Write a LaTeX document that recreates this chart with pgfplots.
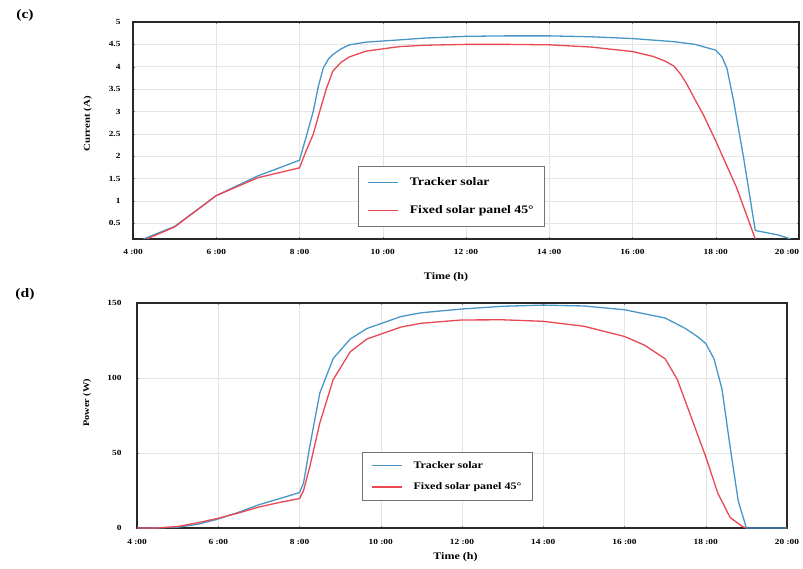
\documentclass[border=0pt]{standalone}
\usepackage{pgfplots}
\pgfplotsset{compat=1.18}
\usepackage{fontspec}
\setmainfont{Liberation Serif}[FakeStretch=1.2]
\definecolor{trk}{RGB}{72,150,200}
\definecolor{fix}{RGB}{232,72,82}
\definecolor{frame}{RGB}{40,40,40}

\pgfplotstableread{
h v
4.25 0.15
5 0.43
6 1.12
7 1.56
8 1.91
8.15 2.4
8.33 3.0
8.45 3.55
8.57 3.97
8.7 4.18
8.8 4.27
9.0 4.40
9.2 4.49
9.6 4.55
10.4 4.60
11 4.64
12 4.68
13 4.69
14 4.69
15 4.67
16 4.63
17 4.56
17.5 4.50
18 4.37
18.15 4.22
18.27 3.96
18.43 3.23
18.67 1.96
18.95 0.34
19.5 0.24
19.8 0.15
}\curtrk

\pgfplotstableread{
h v
4.33 0.15
5 0.42
6 1.12
7 1.52
8 1.74
8.15 2.10
8.33 2.49
8.5 3.05
8.65 3.52
8.8 3.90
9.0 4.10
9.2 4.22
9.6 4.35
10 4.40
10.4 4.45
11 4.48
12 4.50
13 4.50
14 4.49
15 4.44
16 4.34
16.5 4.23
16.8 4.12
17.0 4.01
17.15 3.84
17.3 3.62
17.5 3.27
17.7 2.93
18.0 2.34
18.5 1.30
18.95 0.15
}\curfix

\pgfplotstableread{
h v
4.0 0
4.5 0.1
5 0.5
5.5 2.5
6 6
6.5 10.5
7 15.5
7.5 19.5
8 23.6
8.1 30
8.25 54
8.5 90
8.83 113
9.25 126
9.66 133
10.5 141
11 143.5
12 146
13 147.8
14 148.6
15 148
16 145.5
17 140
17.5 133
17.8 127.5
18 123
18.2 113
18.4 92.6
18.6 54
18.8 18
19.0 0
20.0 0
}\powtrk

\pgfplotstableread{
h v
4.0 0
4.5 0
5 1
5.5 3.5
6 6.5
6.5 10
7 14
7.5 17
8 19.6
8.1 25
8.25 40.5
8.5 70
8.83 99
9.25 117.5
9.66 126
10.5 134
11 136.5
12 138.7
13 138.8
14 137.8
15 134.5
16 127.7
16.5 121.8
17 112.8
17.3 99
17.6 77
18 47.5
18.3 23
18.6 7
18.9 1
19.0 0
}\powfix

\pgfplotsset{
  common/.style={
    scale only axis, anchor=south west,
    axis line style={line width=1.6pt, frame},
    grid=major, grid style={black!10, line width=0.5pt},
    xmin=4, xmax=20,
    xtick={4,6,...,20},
    major tick length=2pt,
    tick style={black!50, line width=0.4pt},
    /pgf/number format/assume math mode=true,
    ticklabel style={font=\fontsize{7.8}{9}\selectfont\bfseries},
    label style={font=\fontsize{10}{12}\selectfont\bfseries},
    legend cell align=left,
    legend image code/.code={\draw[#1] (0pt,0pt) -- (30pt,0pt); \path (39pt,0pt);},
    legend style={draw=black!55, line width=0.7pt, anchor=north west,
      inner xsep=9pt, nodes={inner sep=2pt}},
  },
}

\begin{document}
\begin{tikzpicture}[x=1pt,y=1pt]
\useasboundingbox (0,0) rectangle (803,568);
\node[font=\fontsize{13}{15}\selectfont\bfseries] at (25,553) {(c)};
\node[font=\fontsize{13}{15}\selectfont\bfseries] at (25,274) {(d)};

\begin{axis}[common,
  at={(133pt,329pt)}, width=666pt, height=217pt,
  ymin=0.15, ymax=5,
  ytick={0.5,1,...,5},
  xticklabels={4 :00,6 :00,8 :00,10 :00,12 :00,14 :00,16 :00,18 :00,\makebox[0pt][r]{20 :00}},
  yticklabel style={/pgf/number format/fixed},
  xticklabel style={yshift=-7pt},
  yticklabel style={xshift=-9pt},
  xlabel={Time (h)}, ylabel={Current (A)},
  xlabel style={at={(axis description cs:0.47,-0.175)}, anchor=center},
  ylabel style={at={(axis description cs:-0.068,0.53)}, anchor=center, font=\fontsize{9}{11}\selectfont\bfseries},
  legend style={at={(axis description cs:0.338,0.336)},
    font=\fontsize{11.5}{13}\selectfont\bfseries, row sep=14.5pt, inner ysep=9pt},
]
\addplot[trk, line width=1.3pt] table[x=h,y=v] {\curtrk};
\addlegendentry{Tracker solar}
\addplot[fix, line width=1.3pt] table[x=h,y=v] {\curfix};
\addlegendentry{Fixed solar panel 45°}
\end{axis}

\begin{axis}[common,
  at={(137pt,40pt)}, width=650pt, height=225pt,
  ymin=0, ymax=150,
  ytick={0,50,100,150},
  xticklabels={4 :00,6 :00,8 :00,10 :00,12 :00,14 :00,16 :00,18 :00,20 :00},
  xticklabel style={yshift=-8pt},
  yticklabel style={xshift=-12pt},
  xlabel={Time (h)}, ylabel={Power (W)},
  xlabel style={at={(axis description cs:0.49,-0.129)}, anchor=center},
  ylabel style={at={(axis description cs:-0.077,0.556)}, anchor=center, font=\fontsize{8.6}{10}\selectfont\bfseries},
  legend style={at={(axis description cs:0.346,0.338)},
    font=\fontsize{10}{12}\selectfont\bfseries, row sep=9pt, inner ysep=7pt},
]
\addplot[trk, line width=1.3pt] table[x=h,y=v] {\powtrk};
\addlegendentry{Tracker solar}
\addplot[fix, line width=1.3pt] table[x=h,y=v] {\powfix};
\addlegendentry{Fixed solar panel 45°}
\end{axis}
\end{tikzpicture}
\end{document}
